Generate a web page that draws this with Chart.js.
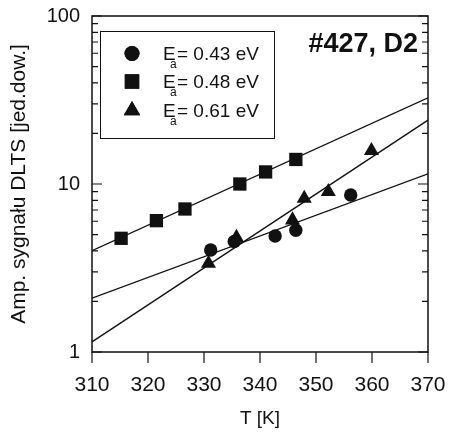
<!DOCTYPE html>
<html>
<head>
<meta charset="utf-8">
<script src="https://cdn.jsdelivr.net/npm/chart.js@4"></script>
<style>
  body { margin: 0; background: #fff; }
  canvas { display: block; }
</style>
</head>
<body>
<canvas id="chart" width="457" height="438"></canvas>
<script>
const ea043T = [331.2, 335.4, 342.7, 346.4, 356.2]
const ea043Amp = [4.05, 4.55, 4.9, 5.3, 8.6]
const ea048T = [315.2, 321.5, 326.6, 336.4, 341.0, 346.4]
const ea048Amp = [4.75, 6.05, 7.1, 10.0, 11.8, 14.0]
const ea061T = [330.8, 335.8, 345.8, 347.9, 352.2, 359.9]
const ea061Amp = [3.37, 4.8, 6.1, 8.2, 9.0, 15.8]

// fitted lines, ends at 310 K and 370 K
const fitT = [310, 370]
const fit043 = [2.09, 11.5]
const fit048 = [4.01, 32.6]
const fit061 = [1.15, 24.0]

// axes
const xTicks = [310, 320, 330, 340, 350, 360, 370]
const yTicks = [1, 2, 3, 4, 5, 6, 7, 8, 9, 10, 20, 30, 40, 50, 60, 70, 80, 90, 100]
const yLabels = [1, 10, 100]

const legendValues = ['0.43 eV', '0.48 eV', '0.61 eV']
const legendStyles = ['circle', 'rect', 'triangle']
const sampleLabel = '#427, D2'

const font = '"Liberation Sans", Arial, sans-serif'
const ink = '#111'

function toPoints(xs, ys) {
    return xs.map((x, i) => ({x: x, y: ys[i]}))
}

// marker sizes per style
const markerRadius = {circle: 6.7, rect: 9.4, triangle: 8.7}

function pointSet(xs, ys, style) {
    return {
        data: toPoints(xs, ys),
        pointStyle: style,
        pointRadius: markerRadius[style],
        backgroundColor: ink,
        borderColor: ink,
        borderWidth: 0,
        showLine: false
    }
}

function fitSet(ys) {
    return {
        data: toPoints(fitT, ys),
        showLine: true,
        pointRadius: 0,
        borderColor: ink,
        borderWidth: 1.4,
        fill: false
    }
}

//frame, inward ticks, legend box and the sample label
const decorations = {
    id: 'decorations',
    afterDraw(chart) {
        const ctx = chart.ctx
        const area = chart.chartArea
        const xs = chart.scales.x
        const ys = chart.scales.y
        ctx.save()
        ctx.strokeStyle = ink
        ctx.lineWidth = 1.5
        ctx.strokeRect(area.left, area.top, area.right - area.left, area.bottom - area.top)

        ctx.lineWidth = 1.2
        ctx.beginPath()
        ys.ticks.forEach(t => {
            const py = ys.getPixelForValue(t.value)
            const len = yLabels.includes(t.value) ? 10 : 6
            ctx.moveTo(area.left, py)
            ctx.lineTo(area.left + len, py)
            ctx.moveTo(area.right, py)
            ctx.lineTo(area.right - len, py)
        })
        xs.ticks.forEach(t => {
            const px = xs.getPixelForValue(t.value)
            ctx.moveTo(px, area.bottom)
            ctx.lineTo(px, area.bottom + 11)
        })
        ctx.stroke()

        // legend
        ctx.lineWidth = 1
        ctx.strokeRect(100.5, 31.5, 174, 107)
        const rows = [60, 88, 117]
        ctx.fillStyle = ink
        ctx.textBaseline = 'alphabetic'
        legendValues.forEach((v, i) => {
            Chart.helpers.drawPoint(ctx, {
                pointStyle: legendStyles[i],
                radius: markerRadius[legendStyles[i]] + 0.8,
                borderWidth: 0
            }, 132, rows[i] - 6.5)
            ctx.fill()
            ctx.font = '19px ' + font
            ctx.fillText('E', 163, rows[i])
            ctx.font = '12px ' + font
            ctx.fillText('a', 170, rows[i] + 8)
            ctx.font = '19px ' + font
            ctx.fillText('= ' + v, 177, rows[i])
        })

        ctx.font = 'bold 27px ' + font
        ctx.textAlign = 'right'
        ctx.fillText(sampleLabel, 418, 52)
        ctx.restore()
    }
}

const ctx = document.getElementById('chart')

new Chart(ctx, {
    type: 'scatter',
    data: {
        datasets: [
            pointSet(ea043T, ea043Amp, 'circle'),
            pointSet(ea048T, ea048Amp, 'rect'),
            pointSet(ea061T, ea061Amp, 'triangle'),
            fitSet(fit043),
            fitSet(fit048),
            fitSet(fit061)
        ]
    },
    options: {
        responsive: false,
        animation: false,
        devicePixelRatio: 1,
        layout: { padding: { left: 0, right: 29, top: 16, bottom: 0 } },
        plugins: { legend: { display: false }, tooltip: { enabled: false } },
        scales: {
            x: {
                type: 'linear',
                min: 310,
                max: 370,
                grid: { display: false, drawTicks: false },
                border: { display: false },
                afterBuildTicks: scale => { scale.ticks = xTicks.map(v => ({value: v})) },
                afterFit: scale => {
                    scale.height = 86
                    scale.paddingLeft = 0
                    scale.paddingRight = 0
                },
                ticks: {
                    color: ink,
                    padding: 21,
                    autoSkip: false,
                    maxRotation: 0,
                    font: { family: font, size: 21 }
                },
                title: {
                    display: true,
                    text: 'T [K]',
                    color: ink,
                    padding: { top: 8, bottom: 8 },
                    font: { family: font, size: 19 }
                }
            },
            y: {
                type: 'logarithmic',
                min: 1,
                max: 100,
                grid: { display: false, drawTicks: false },
                border: { display: false },
                afterBuildTicks: scale => { scale.ticks = yTicks.map(v => ({value: v})) },
                afterFit: scale => {
                    scale.width = 92
                    scale.paddingTop = 0
                    scale.paddingBottom = 0
                },
                ticks: {
                    color: ink,
                    padding: 12,
                    autoSkip: false,
                    font: { family: font, size: 20 },
                    callback: value => yLabels.includes(value) ? String(value) : ''
                },
                title: {
                    display: true,
                    text: 'Amp. sygnału DLTS [jed.dow.]',
                    color: ink,
                    padding: { top: 7, bottom: 7 },
                    font: { family: font, size: 21 }
                }
            }
        }
    },
    plugins: [decorations]
})
</script>
</body>
</html>
